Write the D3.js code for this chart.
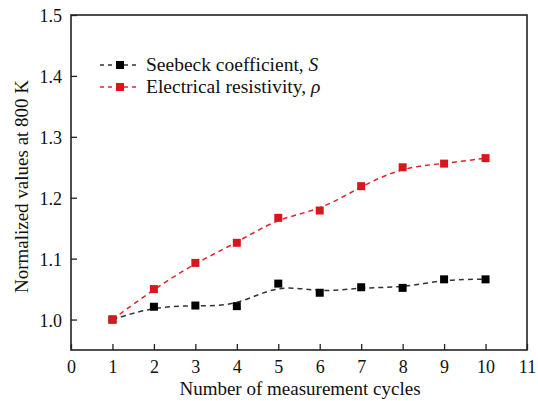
<!DOCTYPE html>
<html>
<head>
<meta charset="utf-8">
<script src="https://cdn.jsdelivr.net/npm/d3@7"></script>
<style>
  html, body { margin: 0; padding: 0; background: #fff; }
  svg { display: block; }
</style>
</head>
<body>
<svg id="chart" width="538" height="401"></svg>
<script>
// Measurement cycles and normalized values at 800 K
const cycles = [1, 2, 3, 4, 5, 6, 7, 8, 9, 10];
const seebeck = [1.000, 1.021, 1.023, 1.022, 1.059, 1.044, 1.053, 1.052, 1.066, 1.066];
const resistivity = [1.000, 1.050, 1.093, 1.126, 1.167, 1.179, 1.219, 1.250, 1.256, 1.265];
const xTicks = [0, 1, 2, 3, 4, 5, 6, 7, 8, 9, 10, 11];
const yTicks = [1.0, 1.1, 1.2, 1.3, 1.4, 1.5];

const series = [
  { name: "Seebeck coefficient, ", sym: "S", values: seebeck, line: "#333", fill: "#000" },
  { name: "Electrical resistivity, ", sym: "ρ", values: resistivity, line: "#e0242a", fill: "#d9161c" }
];

const FONT = "'Liberation Serif', 'Times New Roman', Times, Tinos, 'Nimbus Roman', 'DejaVu Serif', serif";

const svg = d3.select("#chart");
const m = { left: 71, right: 527, top: 15, bottom: 350 };

const x = d3.scaleLinear().domain([0, 11]).range([m.left, m.right]);
const y = d3.scaleLinear().domain([0.95, 1.5]).range([m.bottom, m.top]);

// Axes with inward ticks
const xAxis = d3.axisBottom(x).tickValues(xTicks).tickSizeInner(-6).tickSizeOuter(0).tickPadding(10)
  .tickFormat(d3.format("d"));
const yAxis = d3.axisLeft(y).tickValues(yTicks).tickSizeInner(-6).tickSizeOuter(0).tickPadding(9)
  .tickFormat(d3.format(".1f"));

const gx = svg.append("g").attr("transform", `translate(0,${m.bottom})`).call(xAxis);
const gy = svg.append("g").attr("transform", `translate(${m.left},0)`).call(yAxis);
[gx, gy].forEach(g => {
  g.attr("font-family", FONT);
  g.select(".domain").remove();
  g.selectAll(".tick line").attr("stroke", "#222").attr("stroke-width", 1.3);
  g.selectAll(".tick text").style("font-family", FONT).style("font-size", "18px").attr("fill", "#111");
});
gy.selectAll(".tick text").attr("dy", "0.36em");
gx.selectAll(".tick text").attr("dy", "0.71em");

// Frame
svg.append("rect")
  .attr("x", m.left).attr("y", m.top)
  .attr("width", m.right - m.left).attr("height", m.bottom - m.top)
  .attr("fill", "none").attr("stroke", "#222").attr("stroke-width", 1.6);

// Smoothed dashed lines with square markers
const line = d3.line()
  .x((d, i) => x(cycles[i]))
  .y(d => y(d))
  .curve(d3.curveBasis);

const ms = 8;
series.forEach(s => {
  svg.append("path")
    .attr("d", line(s.values))
    .attr("fill", "none")
    .attr("stroke", s.line)
    .attr("stroke-width", 1.5)
    .attr("stroke-dasharray", "5,4");
  svg.append("g").selectAll("rect")
    .data(s.values)
    .join("rect")
    .attr("x", (d, i) => x(cycles[i]) - ms / 2)
    .attr("y", d => y(d) - ms / 2)
    .attr("width", ms).attr("height", ms)
    .attr("fill", s.fill);
});

// Legend
const legend = svg.append("g");
series.forEach((s, i) => {
  const ly = 65 + i * 22;
  legend.append("line")
    .attr("x1", 100).attr("x2", 140).attr("y1", ly).attr("y2", ly)
    .attr("stroke", s.line).attr("stroke-width", 1.5).attr("stroke-dasharray", "4,4");
  legend.append("rect")
    .attr("x", 120 - ms / 2).attr("y", ly - ms / 2)
    .attr("width", ms).attr("height", ms).attr("fill", s.fill);
  const t = legend.append("text")
    .attr("x", 146).attr("y", ly + 6)
    .style("font-family", FONT)
    .style("font-size", "19.5px")
    .attr("fill", "#111");
  t.append("tspan").text(s.name);
  t.append("tspan").style("font-style", "italic").text(s.sym);
});

// Axis titles
svg.append("text")
  .attr("x", (m.left + m.right) / 2 + 1).attr("y", 395)
  .attr("text-anchor", "middle")
  .style("font-family", FONT)
  .style("font-size", "19px")
  .attr("fill", "#111")
  .text("Number of measurement cycles");

svg.append("text")
  .attr("transform", `translate(28,${(m.top + m.bottom) / 2 + 4}) rotate(-90)`)
  .attr("text-anchor", "middle")
  .style("font-family", FONT)
  .style("font-size", "19px")
  .attr("fill", "#111")
  .text("Normalized values at 800 K");
</script>
</body>
</html>
